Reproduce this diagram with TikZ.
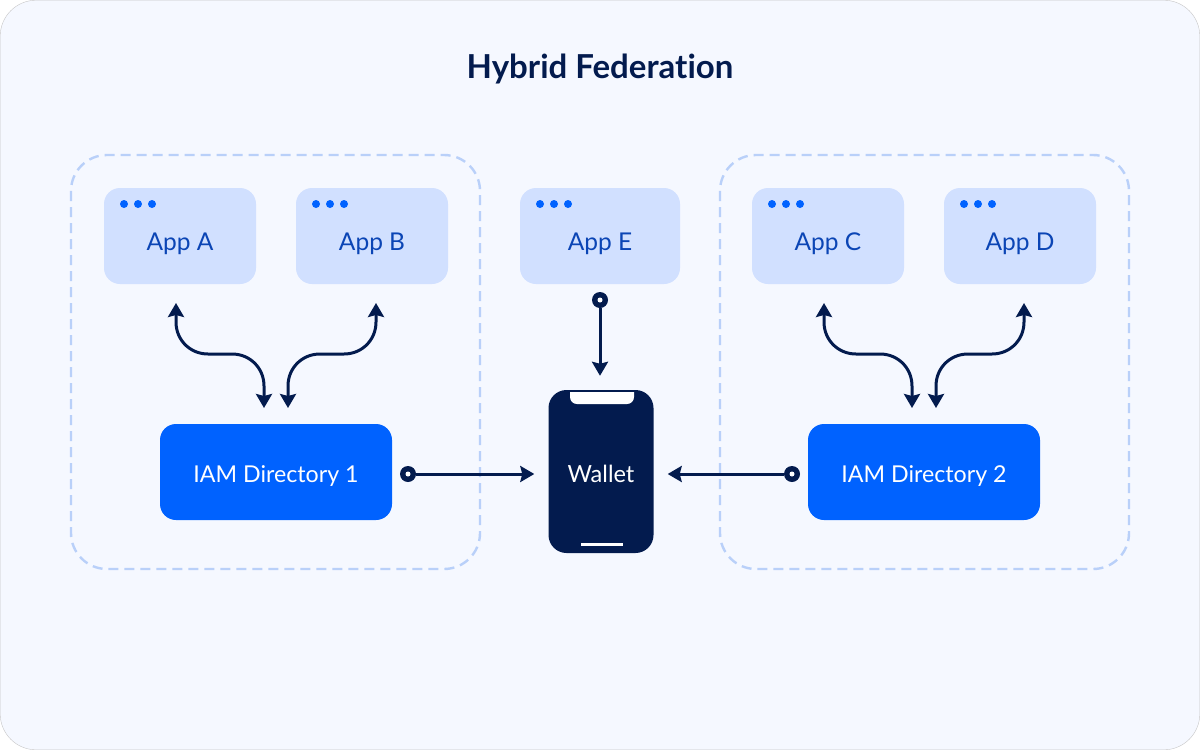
\documentclass[tikz,border=0pt]{standalone}
\usepackage{fontspec}
\setmainfont[Ligatures=NoCommon]{Lato}
\usetikzlibrary{arrows.meta}
\definecolor{panel}{HTML}{F5F8FF}
\definecolor{appfill}{HTML}{D1E0FF}
\definecolor{blue}{HTML}{0062FF}
\definecolor{navy}{HTML}{031B4E}
\definecolor{apptext}{HTML}{0B45B5}
\definecolor{dashc}{HTML}{B9D0F9}
\tikzset{
  x=1pt,y=-1pt,
  group/.style={draw=dashc,line width=2.4pt,rounded corners=36pt,dash pattern=on 10pt off 6pt},
  appbox/.style={fill=appfill,rounded corners=16pt,minimum height=96pt,inner sep=0pt},
  applabel/.style={text=apptext,anchor=base,font=\fontsize{24.5}{28}\selectfont},
  dirbox/.style={fill=blue,rounded corners=16pt,minimum width=232pt,minimum height=96pt,inner sep=0pt},
  dirlabel/.style={text=white,anchor=base,font=\fontsize{23.2}{26}\selectfont},
  dotmark/.style={circle,fill=blue,minimum size=8pt,inner sep=0pt},
  port/.style={circle,fill=navy,minimum size=16pt,inner sep=0pt},
  porthole/.style={circle,fill=white,minimum size=5pt,inner sep=0pt},
  link/.style={draw=navy,line width=3pt,-{Stealth[inset=2pt,length=14pt,width=16pt]}},
  duplex/.style={draw=navy,line width=3pt,{Stealth[inset=2pt,length=14pt,width=16pt]}-{Stealth[inset=2pt,length=14pt,width=16pt]}},
}
\newcommand{\appnode}[4]{% name, left x, width, label
  \node[appbox,minimum width=#3pt] (#1) at ({#2+#3/2},236) {};
  \node[applabel] (#1t) at ({#2+#3/2},250) {#4};
  \node[dotmark] (#1d1) at ({#2+20},204) {};
  \node[dotmark] (#1d2) at ({#2+34},204) {};
  \node[dotmark] (#1d3) at ({#2+48},204) {};
}
\begin{document}
\begin{tikzpicture}
\useasboundingbox (0,0) rectangle (1200,750);
\fill[white] (0,0) rectangle (1200,750);
\filldraw[fill=panel,draw=black!22,line width=0.4pt,rounded corners=36pt] (0.2,0.2) rectangle (1199.8,749.8);
\node[text=navy,font=\bfseries\fontsize{33}{36}\selectfont,anchor=base] (title) at (600,78) {Hybrid Federation};
\draw[group] (71,155) rectangle (480,569);
\draw[group] (720,155) rectangle (1129,569);
\appnode{appA}{104}{152}{App A}
\appnode{appB}{296}{152}{App B}
\appnode{appE}{520}{160}{App E}
\appnode{appC}{752}{152}{App C}
\appnode{appD}{944}{152}{App D}
\node[dirbox] (dirA) at (276,472) {};
\node[dirlabel] (dirAt) at (276,482) {IAM Directory 1};
\node[dirbox] (dirB) at (924,472) {};
\node[dirlabel] (dirBt) at (924,482) {IAM Directory 2};
% phone
\node[fill=navy,rounded corners=18pt,minimum width=105pt,minimum height=163pt,inner sep=0pt] (wallet) at (601,471.5) {};
\fill[white] (570,392) [rounded corners=7pt] -- (570,404) -- (634,404) [sharp corners] -- (634,392) -- cycle;
\fill[white] (581,543) rectangle (623,545.5);
\node[text=white,anchor=base,font=\fontsize{23.6}{26}\selectfont] (walletT) at (601,482) {Wallet};
% ports and connectors
\node[port] (pA) at (408,474) {};
\node[port] (pB) at (792,474) {};
\node[port] (pE) at (600,300) {};
\draw[link,shorten >=14pt] (pA) -- (wallet.west |- pA);
\draw[link,shorten >=14pt] (pB) -- (wallet.east |- pB);
\draw[link,shorten >=14pt] (pE) -- (pE |- wallet.north);
\node[porthole] (hA) at (pA) {};
\node[porthole] (hB) at (pB) {};
\node[porthole] (hE) at (pE) {};
% duplex curves
\foreach \ox in {0,648}{
  \coordinate (u1) at ({176+\ox},303);
  \coordinate (d1) at ({264+\ox},408);
  \coordinate (u2) at ({376+\ox},303);
  \coordinate (d2) at ({288+\ox},408);
  \draw[duplex] (u1) -- ++(0,19) .. controls +(0,18) and +(-18,0) .. ++(32,32) -- ++(24,0) .. controls +(18,0) and +(0,-18) .. ++(32,32) -- (d1);
  \draw[duplex] (u2) -- ++(0,19) .. controls +(0,18) and +(18,0) .. ++(-32,32) -- ++(-24,0) .. controls +(-18,0) and +(0,-18) .. ++(-32,32) -- (d2);
}
\end{tikzpicture}
\end{document}
